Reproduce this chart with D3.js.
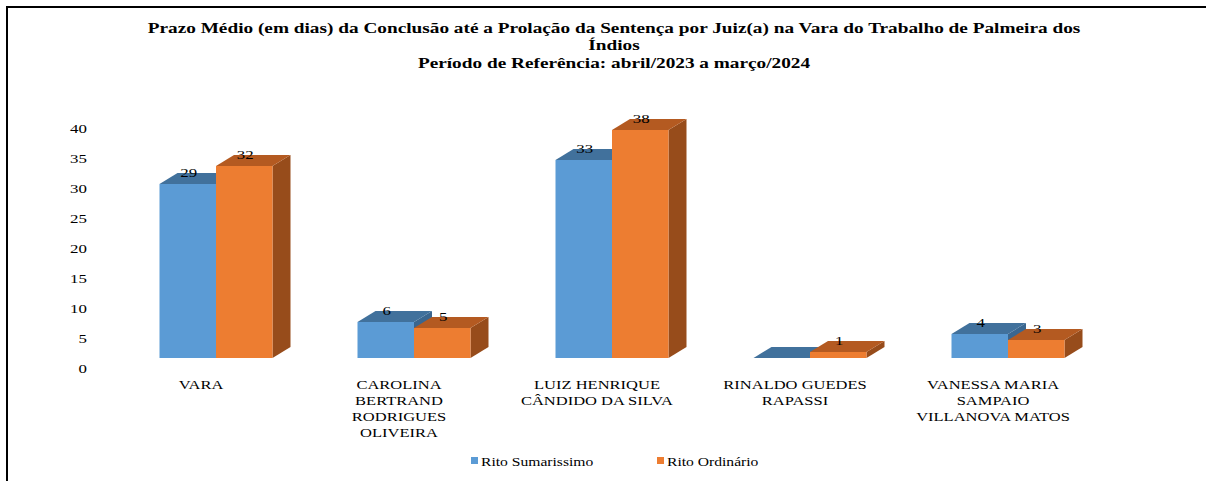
<!DOCTYPE html>
<html><head><meta charset="utf-8">
<script src="https://cdn.jsdelivr.net/npm/d3@7"></script>
<style>
html,body{margin:0;padding:0;background:#fff;}
svg{display:block;}
</style></head>
<body><svg id="chart" width="1206" height="481"></svg>
<script>
const categories = ["VARA", "CAROLINA BERTRAND RODRIGUES OLIVEIRA", "LUIZ HENRIQUE CÂNDIDO DA SILVA", "RINALDO GUEDES RAPASSI", "VANESSA MARIA SAMPAIO VILLANOVA MATOS"];
const categoryLines = [["VARA"], ["CAROLINA", "BERTRAND", "RODRIGUES", "OLIVEIRA"], ["LUIZ HENRIQUE", "CÂNDIDO DA SILVA"], ["RINALDO GUEDES", "RAPASSI"], ["VANESSA MARIA", "SAMPAIO", "VILLANOVA MATOS"]];
const seriesNames = ["Rito Sumarissimo", "Rito Ordinário"];
const sumarissimo = [29, 6, 33, 0, 4];
const ordinario = [32, 5, 38, 1, 3];
const yTicks = [0, 5, 10, 15, 20, 25, 30, 35, 40];
const titleLines = ["Prazo Médio (em dias) da Conclusão até a Prolação da Sentença por Juiz(a) na Vara do Trabalho de Palmeira dos", "Índios", "Período de Referência: abril/2023 a março/2024"];

const FONT = "Liberation Serif";
const colors = {
  front: ["#5b9bd5", "#ed7d31"],
  top: ["#41719c", "#b45a21"],
  side: ["#3a668f", "#974c1b"]
};
const SX = 1.3;
const svg = d3.select("#chart");

// frame lines
svg.append("line").attr("x1", 6).attr("y1", 7).attr("x2", 1206).attr("y2", 7).attr("stroke", "#000").attr("stroke-width", 2);
svg.append("line").attr("x1", 7).attr("y1", 6).attr("x2", 7).attr("y2", 481).attr("stroke", "#000").attr("stroke-width", 2);

function stext(g, x, y, str, size, anchor, weight, sx) {
  return g.append("text")
    .attr("transform", `translate(${x},${y}) scale(${sx || SX},1)`)
    .attr("text-anchor", anchor || "middle")
    .attr("font-family", FONT)
    .attr("font-size", size)
    .attr("font-weight", weight || "normal")
    .attr("fill", "#000")
    .text(str);
}

// title
const titleY = [33, 50, 68];
titleLines.forEach((t, i) => stext(svg, 614, titleY[i], t, 14.5, "middle", "bold", 1.33));

const y = d3.scaleLinear().domain([0, 40]).range([358, 118]);
const x = d3.scaleBand().domain(categories).range([117, 1107]);
const bw = x.bandwidth();
const xs = d3.scaleBand().domain(seriesNames).range([bw / 2 - 56.5, bw / 2 + 56.5]);
const dx = 18, dy = 11;

// y axis (on back wall, offset)
const yAxis = svg.append("g").attr("transform", "translate(87,10)")
  .call(d3.axisLeft(y).tickValues(yTicks).tickSize(0).tickPadding(0));
yAxis.select(".domain").remove();
yAxis.selectAll(".tick text").remove();
yAxis.selectAll(".tick").each(function(d) {
  stext(d3.select(this), 0, 4.5, String(d), 13, "end");
});

const data = categories.map((c, i) => ({ cat: c, vals: [sumarissimo[i], ordinario[i]] }));
const bars = svg.append("g");
const labels = svg.append("g");
data.forEach(d => {
  d.vals.forEach((v, s) => {
    const x0 = x(d.cat) + xs(seriesNames[s]);
    const w = xs.bandwidth();
    const yt = y(v), yb = y(0);
    const g = bars.append("g");
    g.append("path").attr("fill", colors.side[s])
      .attr("d", `M${x0 + w},${yt}L${x0 + w + dx},${yt - dy}L${x0 + w + dx},${yb - dy}L${x0 + w},${yb}Z`);
    g.append("path").attr("fill", colors.top[s])
      .attr("d", `M${x0},${yt}L${x0 + dx},${yt - dy}L${x0 + w + dx},${yt - dy}L${x0 + w},${yt}Z`);
    g.append("rect").attr("x", x0).attr("y", yt).attr("width", w).attr("height", yb - yt).attr("fill", colors.front[s]);
    if (v > 0) stext(labels, x0 + w / 2 + 1, yt - 7, String(v), 13, "middle");
  });
});

// category labels
categories.forEach((c, i) => {
  const cx = x(c) + bw / 2 - 15;
  categoryLines[i].forEach((ln, k) => stext(svg, cx, 389 + k * 16, ln, 12.5, "middle", "normal", 1.32));
});

// legend
const legX = [471, 657];
seriesNames.forEach((n, i) => {
  svg.append("rect").attr("x", legX[i]).attr("y", 457).attr("width", 7).attr("height", 7).attr("fill", colors.front[i]);
  stext(svg, legX[i] + 10, 466, n, 12.5, "start", "normal", 1.25);
});
</script></body></html>
